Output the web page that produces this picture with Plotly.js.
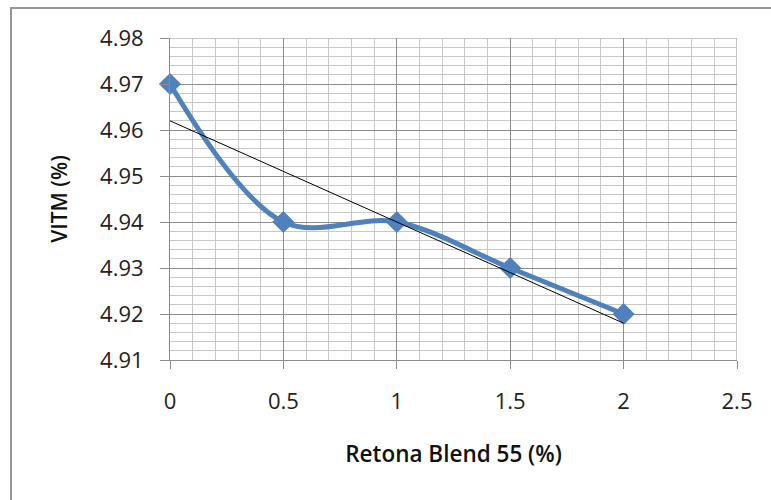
<!DOCTYPE html>
<html>
<head>
<meta charset="utf-8">
<script src="https://cdn.plot.ly/plotly-3.0.1.min.js"></script>
<style>
  html, body { margin: 0; padding: 0; background: #fff; }
  #wrap { position: relative; width: 771px; height: 500px; overflow: hidden; }
  #chart { position: absolute; left: 0; top: 0; width: 771px; height: 500px; }
  #frame { position: absolute; left: 10px; top: 7px; width: 800px; height: 600px;
           border-left: 2px solid #959595; border-top: 2px solid #959595; pointer-events: none; }
</style>
</head>
<body>
<div id="wrap">
  <div id="chart"></div>
  <div id="frame"></div>
</div>
<script>
// Data
const blendPct = [0, 0.5, 1, 1.5, 2];
const vitm = [4.97, 4.94, 4.94, 4.93, 4.92];
// Linear trendline endpoints
const trendX = [0, 2];
const trendY = [4.962, 4.918];

const xTickVals = [0, 0.5, 1, 1.5, 2, 2.5];
const xTickText = ['0', '0.5', '1', '1.5', '2', '2.5'];
const yTickVals = [4.91, 4.92, 4.93, 4.94, 4.95, 4.96, 4.97, 4.98];
const yTickText = ['4.91', '4.92', '4.93', '4.94', '4.95', '4.96', '4.97', '4.98'];

const FONT = 'Open Sans, Liberation Sans, sans-serif';

const traces = [
  {
    x: blendPct, y: vitm, type: 'scatter', mode: 'lines+markers',
    line: { color: '#4F81BD', width: 5, shape: 'spline', smoothing: 1 },
    marker: { symbol: 'diamond', size: 17, color: '#4F81BD' },
    hoverinfo: 'skip', showlegend: false, cliponaxis: false
  },
  {
    x: trendX, y: trendY, type: 'scatter', mode: 'lines',
    line: { color: '#000000', width: 1 },
    hoverinfo: 'skip', showlegend: false
  }
];

const layout = {
  width: 771, height: 500,
  margin: { l: 170, r: 34, t: 38, b: 140, pad: 0 },
  paper_bgcolor: '#ffffff', plot_bgcolor: '#ffffff',
  font: { family: FONT, color: '#000' },
  xaxis: {
    range: [0, 2.5], tickmode: 'array', tickvals: xTickVals, ticktext: xTickText,
    showgrid: true, gridcolor: '#8c8c8c', gridwidth: 1,
    minor: { dtick: 0.1, showgrid: true, gridcolor: '#c8c8c8', gridwidth: 1, ticks: '' },
    showline: true, linecolor: '#8c8c8c', linewidth: 1,
    ticks: 'outside', ticklen: 8, tickcolor: '#8c8c8c', tickwidth: 1,
    tickfont: { family: FONT, size: 22, color: '#222' },
    ticklabelstandoff: 14,
    zeroline: false, mirror: false,
    title: { text: 'Retona Blend 55 (%)', font: { family: FONT, size: 22.5, color: '#111', weight: 600 }, standoff: 31 }
  },
  yaxis: {
    range: [4.91, 4.98], tickmode: 'array', tickvals: yTickVals, ticktext: yTickText,
    showgrid: true, gridcolor: '#8c8c8c', gridwidth: 1,
    minor: { dtick: 0.002, showgrid: true, gridcolor: '#c8c8c8', gridwidth: 1, ticks: '' },
    showline: true, linecolor: '#8c8c8c', linewidth: 1,
    ticks: 'outside', ticklen: 9, tickcolor: '#8c8c8c', tickwidth: 1,
    tickfont: { family: FONT, size: 22, color: '#222' },
    ticklabelstandoff: 12,
    zeroline: false,
    title: { text: 'VITM (%)', font: { family: FONT, size: 21, color: '#111', weight: 600 }, standoff: 26 }
  },
  shapes: [
    { type: 'line', xref: 'x', yref: 'y', x0: 2.5, x1: 2.5, y0: 4.91, y1: 4.98, line: { color: '#8c8c8c', width: 1 }, layer: 'below' },
    { type: 'line', xref: 'x', yref: 'y', x0: 0, x1: 2.5, y0: 4.98, y1: 4.98, line: { color: '#8c8c8c', width: 1 }, layer: 'below' }
  ]
};

Plotly.newPlot('chart', traces, layout, { displayModeBar: false, staticPlot: true });
</script>
</body>
</html>
